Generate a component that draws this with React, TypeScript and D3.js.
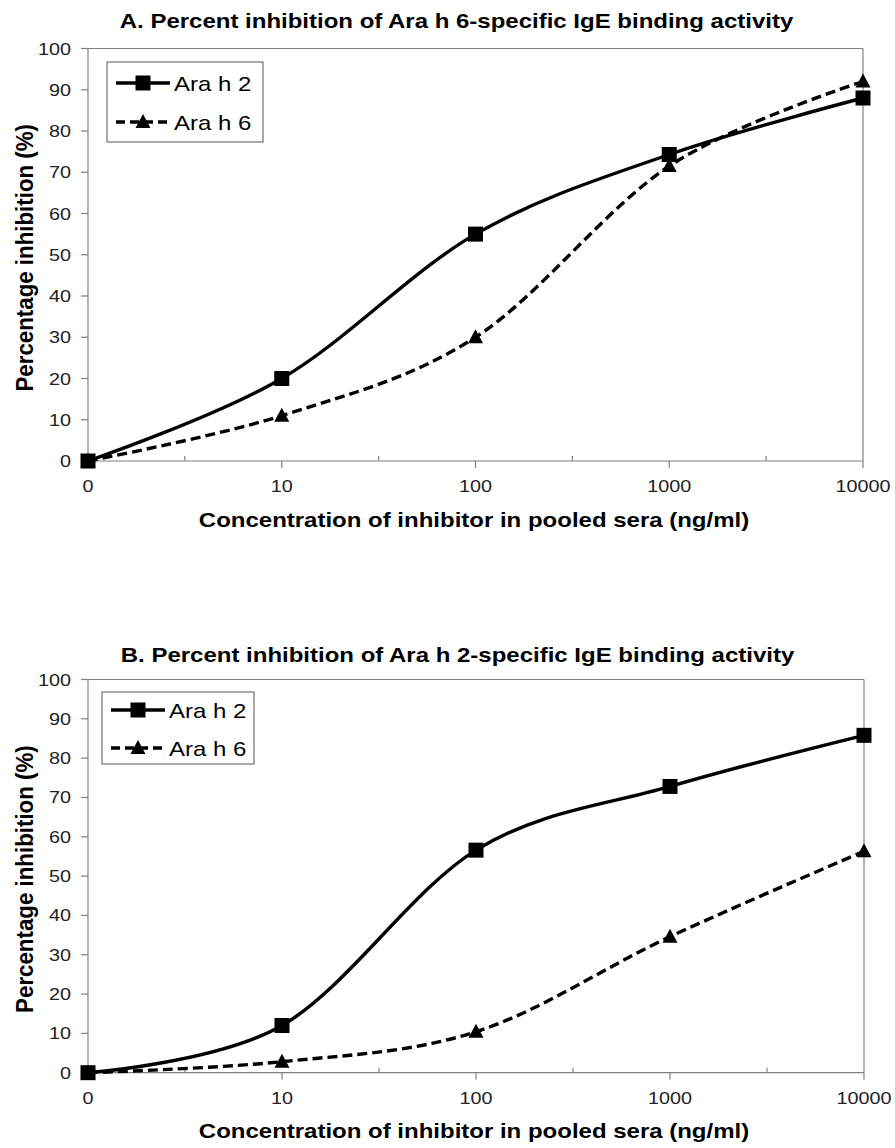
import React from "react";
import * as d3 from "d3";

const categories = ["0", "10", "100", "1000", "10000"];
const yTicks = [0, 10, 20, 30, 40, 50, 60, 70, 80, 90, 100];

const panelATitle = "A. Percent inhibition of Ara h 6-specific IgE binding activity";
const panelAAraH2 = [0, 20, 55, 74.3, 88];
const panelAAraH6 = [0, 11, 30, 71.5, 92];

const panelBTitle = "B. Percent inhibition of Ara h 2-specific IgE binding activity";
const panelBAraH2 = [0, 12, 56.6, 72.8, 85.8];
const panelBAraH6 = [0, 2.8, 10.4, 34.6, 56.3];

const seriesNames = ["Ara h 2", "Ara h 6"];
const xLabel = "Concentration of inhibitor in pooled sera (ng/ml)";
const yLabel = "Percentage inhibition (%)";

const FONT = "'Liberation Sans', Arial, sans-serif";
const AXIS = "#808080";
const SX = 1.2;

type TProps = {
  x: number;
  y: number;
  size: number;
  anchor?: "start" | "middle" | "end";
  bold?: boolean;
  sx?: number;
  fill?: string;
  children: React.ReactNode;
};
function T({ x, y, size, anchor = "start", bold = false, sx = SX, fill = "#000", children }: TProps) {
  return (
    <text
      transform={`translate(${x},${y}) scale(${sx},1)`}
      textAnchor={anchor}
      fontFamily={FONT}
      fontWeight={bold ? "bold" : "normal"}
      fontSize={size}
      fill={fill}
    >
      {children}
    </text>
  );
}

type PanelProps = {
  title: string;
  titleX: number;
  titleY: number;
  h2: number[];
  h6: number[];
  left: number;
  right: number;
  top: number;
  bottom: number;
  legend: { x: number; y: number; w: number; h: number; l1: number; l2: number };
};

function Square({ x, y }: { x: number; y: number }) {
  return <rect x={x - 7.5} y={y - 7.5} width={15} height={15} fill="#000" />;
}
function Triangle({ x, y }: { x: number; y: number }) {
  return <path d={`M${x},${y - 8}L${x + 7.5},${y + 6}L${x - 7.5},${y + 6}Z`} fill="#000" />;
}

function Panel({ title, titleX, titleY, h2, h6, left, right, top, bottom, legend }: PanelProps) {
  const x = d3.scalePoint<string>().domain(categories).range([left, right]);
  const y = d3.scaleLinear().domain([0, 100]).range([bottom, top]);
  const step = x.step();
  const line = d3
    .line<number>()
    .x((_, i) => x(categories[i])!)
    .y((d) => y(d))
    .curve(d3.curveCardinal.tension(0));
  const cy = (top + bottom) / 2;
  return (
    <g>
      <T x={titleX} y={titleY} size={20} anchor="middle" bold>
        {title}
      </T>
      {/* plot frame */}
      <line x1={left} x2={right} y1={top} y2={top} stroke={AXIS} strokeWidth={1.2} />
      <line x1={right} x2={right} y1={top} y2={bottom} stroke={AXIS} strokeWidth={1.2} />
      <line x1={left} x2={left} y1={top} y2={bottom} stroke={AXIS} strokeWidth={1.2} />
      <line x1={left} x2={right} y1={bottom} y2={bottom} stroke={AXIS} strokeWidth={1.2} />
      {yTicks.map((t) => (
        <g key={t}>
          <line x1={left - 7} x2={left} y1={y(t)} y2={y(t)} stroke={AXIS} strokeWidth={1.2} />
          <T x={left - 17} y={y(t) + 6} size={16.5} anchor="end" fill="#222">
            {t}
          </T>
        </g>
      ))}
      {categories.map((c, i) => (
        <g key={c}>
          <line x1={x(c)} x2={x(c)} y1={bottom} y2={bottom + 7} stroke={AXIS} strokeWidth={1.2} />
          {i > 0 && (
            <line x1={x(c)! - step / 2} x2={x(c)! - step / 2} y1={bottom - 5} y2={bottom} stroke={AXIS} strokeWidth={1.2} />
          )}
          <T x={x(c)!} y={bottom + 31} size={16.5} anchor="middle" fill="#222">
            {c}
          </T>
        </g>
      ))}
      <T x={474} y={bottom + 65.5} size={20} anchor="middle" bold>
        {xLabel}
      </T>
      <text
        transform={`translate(33,${cy + 3}) rotate(-90) scale(1,1.1)`}
        textAnchor="middle"
        fontFamily={FONT}
        fontWeight="bold"
        fontSize={22.3}
      >
        {yLabel}
      </text>
      {/* series */}
      <path d={line(h2)!} fill="none" stroke="#000" strokeWidth={3.4} />
      <path d={line(h6)!} fill="none" stroke="#000" strokeWidth={3.4} strokeDasharray="10,5" />
      {h2.map((v, i) => (
        <Square key={i} x={x(categories[i])!} y={y(v)} />
      ))}
      {h6.map((v, i) => (
        <Triangle key={i} x={x(categories[i])!} y={y(v)} />
      ))}
      {/* legend */}
      <rect x={legend.x} y={legend.y} width={legend.w} height={legend.h} fill="#fff" stroke="#555" strokeWidth={1} />
      {seriesNames.map((s, i) => {
        const ly = legend.y + (i === 0 ? legend.l1 : legend.l2);
        const lx1 = legend.x + 9;
        const lx2 = legend.x + 63;
        const mx = (lx1 + lx2) / 2;
        return (
          <g key={s}>
            <line x1={lx1} x2={lx2} y1={ly} y2={ly} stroke="#000" strokeWidth={3.4} strokeDasharray={i === 0 ? undefined : "9,5"} />
            {i === 0 ? <Square x={mx} y={ly} /> : <Triangle x={mx} y={ly} />}
            <T x={lx2 + 4} y={ly + 7.5} size={20}>
              {s}
            </T>
          </g>
        );
      })}
    </g>
  );
}

export default function App() {
  return (
    <svg width={895} height={1148} style={{ position: "absolute", left: 0, top: 0, background: "#fff" }}>
      <rect width={895} height={1148} fill="#fff" />
      <Panel
        title={panelATitle}
        titleX={456.5}
        titleY={28}
        h2={panelAAraH2}
        h6={panelAAraH6}
        left={88}
        right={863}
        top={48.5}
        bottom={461}
        legend={{ x: 107, y: 62, w: 156, h: 80, l1: 21, l2: 60 }}
      />
      <Panel
        title={panelBTitle}
        titleX={457.5}
        titleY={661.5}
        h2={panelBAraH2}
        h6={panelBAraH6}
        left={88}
        right={864}
        top={679.5}
        bottom={1072.7}
        legend={{ x: 102, y: 692, w: 152, h: 72, l1: 18, l2: 56 }}
      />
    </svg>
  );
}
